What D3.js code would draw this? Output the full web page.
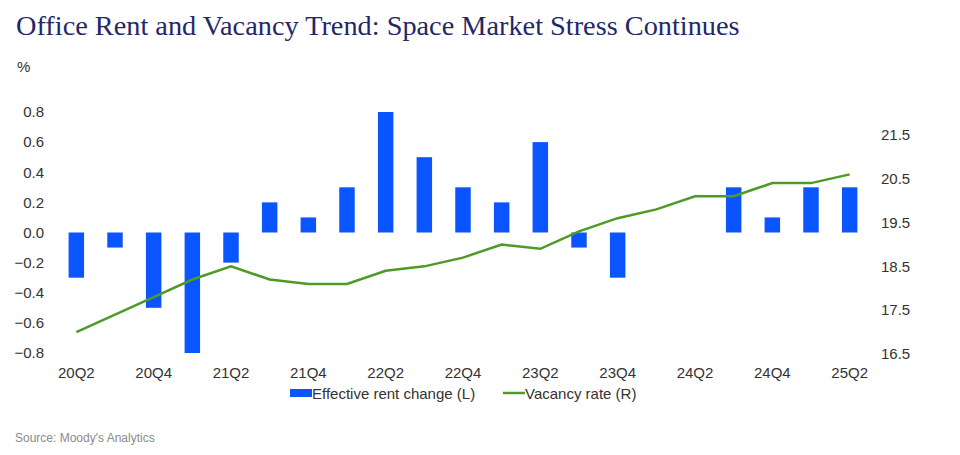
<!DOCTYPE html>
<meta charset="utf-8">
<style>
body{
  margin: 0;
  background: #fff;
  font-family: "Liberation Sans", Arial, sans-serif;
}
.title{
  font-family: "Liberation Serif", "Times New Roman", serif;
  fill: #1f2869;
}
.tick text{
  fill: #333;
  font-size: 15px;
}
</style>
<body>
<div id='chart'></div>
<script src="https://cdn.jsdelivr.net/npm/d3@7"></script>
<script>

var quarters = ['20Q2','20Q3','20Q4','21Q1','21Q2','21Q3','21Q4','22Q1','22Q2','22Q3','22Q4',
                '23Q1','23Q2','23Q3','23Q4','24Q1','24Q2','24Q3','24Q4','25Q1','25Q2']
var rentChange = [-0.3,-0.1,-0.5,-0.8,-0.2,0.2,0.1,0.3,0.8,0.5,0.3,
                  0.2,0.6,-0.1,-0.3,0,0,0.3,0.1,0.3,0.3]
var vacancy = [17.0,17.4,17.8,18.2,18.5,18.2,18.1,18.1,18.4,18.5,18.7,
               19.0,18.9,19.3,19.6,19.8,20.1,20.1,20.4,20.4,20.6]
var leftTicks = [-0.8,-0.6,-0.4,-0.2,0,0.2,0.4,0.6,0.8]
var rightTicks = [16.5,17.5,18.5,19.5,20.5,21.5]

var width = 960,
    height = 455

var svg = d3.select('#chart')
  .append('svg')
    .attr('width', width)
    .attr('height', height)

svg.append('text')
    .attr('class', 'title')
    .attr('x', 16)
    .attr('y', 35)
    .style('font-size', '28.3px')
    .text('Office Rent and Vacancy Trend: Space Market Stress Continues')

svg.append('text')
    .attr('x', 17)
    .attr('y', 72)
    .style('font-size', '15px')
    .style('fill', '#333')
    .text('%')

var x = d3.scaleBand()
    .domain(quarters)
    .range([57, 869])
    .paddingInner(0.6)
    .paddingOuter(0.3)

var yL = d3.scaleLinear()
    .domain([-0.8, 0.8])
    .range([353, 112])

var yR = d3.scaleLinear()
    .domain([16.5, 22])
    .range([354, 113])

svg.selectAll('rect.bar')
    .data(quarters.map(function(q, i){ return {q: q, v: rentChange[i]} }))
  .enter().append('rect')
    .attr('class', 'bar')
    .attr('x', function(d){ return x(d.q) })
    .attr('width', x.bandwidth())
    .attr('y', function(d){ return yL(Math.max(0, d.v)) })
    .attr('height', function(d){ return Math.abs(yL(d.v) - yL(0)) })
    .style('fill', '#0a55ff')

var line = d3.line()
    .x(function(d, i){ return x(quarters[i]) + x.bandwidth() / 2 })
    .y(function(d){ return yR(d) })

svg.append('path')
    .datum(vacancy)
    .attr('d', line)
    .style('fill', 'none')
    .style('stroke', '#4d9a26')
    .style('stroke-width', 2.5)

var xAxis = d3.axisBottom(x)
    .tickValues(quarters.filter(function(d, i){ return i % 2 == 0 }))
    .tickSize(0)
    .tickPadding(0)

svg.append('g')
    .attr('transform', 'translate(0,367)')
    .call(xAxis)
    .call(function(g){ g.select('.domain').remove() })

var leftAxis = d3.axisLeft(yL)
    .tickValues(leftTicks)
    .tickFormat(d3.format('.1f'))
    .tickSize(0)
    .tickPadding(0)

svg.append('g')
    .attr('transform', 'translate(44,0)')
    .call(leftAxis)
    .call(function(g){ g.select('.domain').remove() })

var rightAxis = d3.axisRight(yR)
    .tickValues(rightTicks)
    .tickFormat(d3.format('.1f'))
    .tickSize(0)
    .tickPadding(0)

svg.append('g')
    .attr('transform', 'translate(881,0)')
    .call(rightAxis)
    .call(function(g){ g.select('.domain').remove() })

svg.selectAll('.tick text').style('font-family', '"Liberation Sans", Arial, sans-serif')

// legend
var legend = svg.append('g')
    .attr('transform', 'translate(290,393)')
    .style('font-size', '15px')
    .style('fill', '#333')

legend.append('rect')
    .attr('x', 0).attr('y', -4)
    .attr('width', 22).attr('height', 8)
    .style('fill', '#0a55ff')
legend.append('text')
    .attr('x', 22).attr('y', 5.5)
    .text('Effective rent change (L)')

legend.append('line')
    .attr('x1', 213).attr('x2', 235)
    .attr('y1', 0).attr('y2', 0)
    .style('stroke', '#4d9a26')
    .style('stroke-width', 2.5)
legend.append('text')
    .attr('x', 235).attr('y', 5.5)
    .text('Vacancy rate (R)')

svg.append('text')
    .attr('x', 15)
    .attr('y', 442)
    .style('font-size', '12px')
    .style('fill', '#8a8a8a')
    .text("Source: Moody's Analytics")

</script>
